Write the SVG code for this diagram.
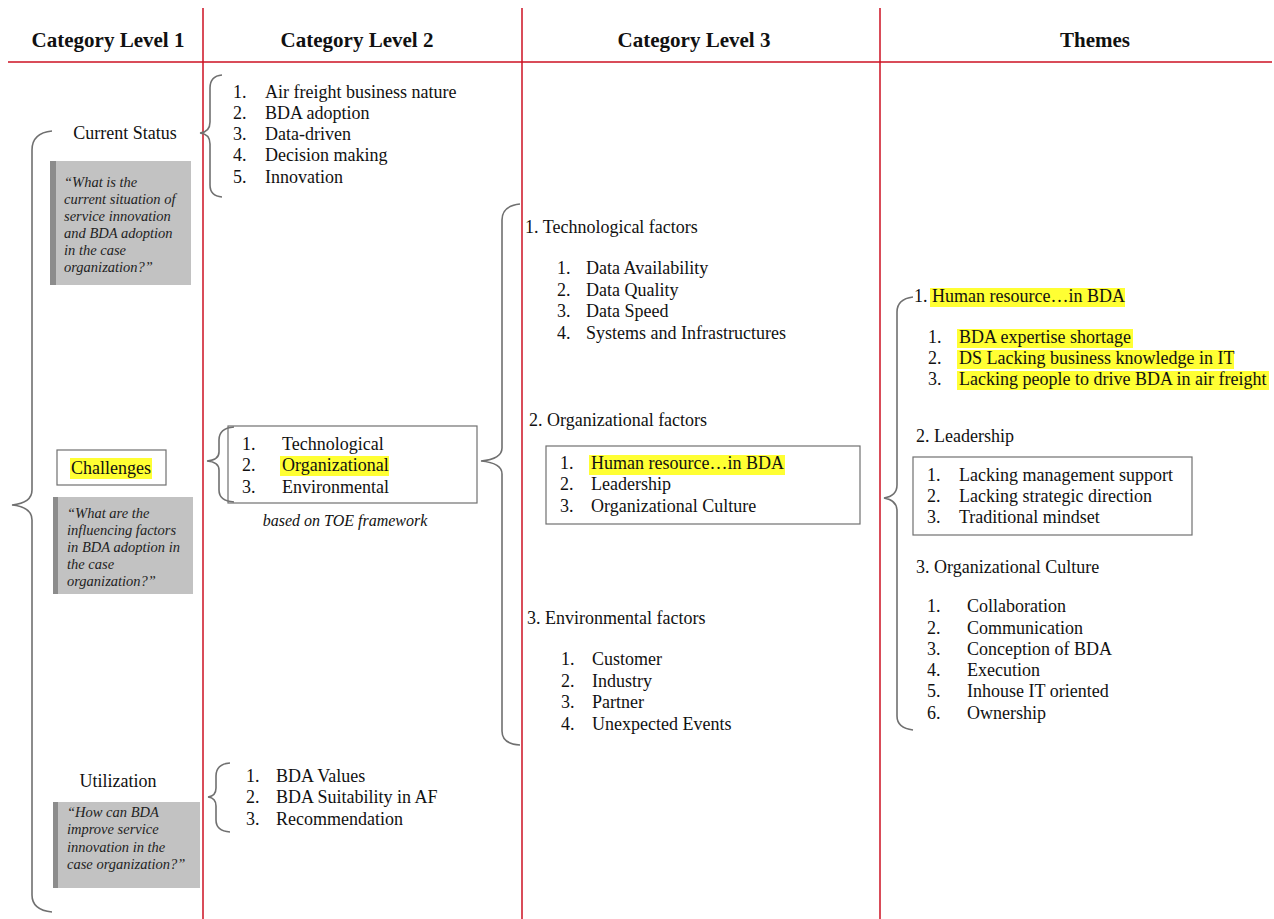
<svg xmlns="http://www.w3.org/2000/svg" width="1274" height="919" viewBox="0 0 1274 919">
<style>
.h{font-family:"Liberation Serif","Times New Roman",serif;font-size:21px;font-weight:bold;fill:#111;text-anchor:middle}
.t{font-family:"Liberation Serif","Times New Roman",serif;font-size:18px;fill:#111}
.q{font-family:"Liberation Serif","Times New Roman",serif;font-size:14.5px;font-style:italic;fill:#222}
.n{font-family:"Liberation Serif","Times New Roman",serif;font-size:16px;font-style:italic;fill:#111;text-anchor:middle}
.red{stroke:#cc1122;stroke-width:1.5;fill:none}
.br{stroke:#707070;stroke-width:1.6;fill:none}
.box{stroke:#707070;stroke-width:1.2;fill:none}
.hl{fill:#ffff33}
.g{fill:#c2c2c2}
.gs{fill:#8c8c8c}
</style>
<rect width="1274" height="919" fill="#fff"/>
<g id="grid">
<line class="red" x1="8" y1="62" x2="1272" y2="62"/>
<line class="red" x1="203" y1="8" x2="203" y2="919"/>
<line class="red" x1="522" y1="8" x2="522" y2="919"/>
<line class="red" x1="880" y1="8" x2="880" y2="919"/>
</g>
<g id="headers">
<text class="h" x="108" y="47">Category Level 1</text>
<text class="h" x="357" y="47">Category Level 2</text>
<text class="h" x="694" y="47">Category Level 3</text>
<text class="h" x="1095" y="47">Themes</text>
</g>
<g id="connectors">
<path class="br" d="M52,131 Q32,133 32,150 L32,490 Q32,503 12,505 Q32,507 32,520 L32,895 Q32,910 52,912"/>
<path class="br" d="M222,75 Q210,76 210,88 L210,122 Q210,132 200,133 Q210,134 210,144 L210,185 Q210,196 222,197"/>
<path class="br" d="M234,427 Q219,428 219,440 L219,452 Q219,460 207,461 Q219,462 219,470 L219,490 Q219,501 234,502"/>
<path class="br" d="M230,763 Q216,764 216,776 L216,788 Q216,796 208,797 Q216,798 216,806 L216,820 Q216,831 230,832"/>
<path class="br" d="M520,204 Q502,206 502,220 L502,448 Q502,459 481,461 Q502,463 502,474 L502,731 Q502,744 520,745"/>
<path class="br" d="M913,297 Q897,299 897,312 L897,485 Q897,496 884,498 Q897,500 897,511 L897,716 Q897,728 913,730"/>
</g>
<g id="current-status">
<text class="t" x="125" y="139" text-anchor="middle">Current Status</text>
<rect class="g" x="50" y="161" width="141" height="124"/>
<rect class="gs" x="50" y="161" width="6" height="124"/>
<text class="q" x="64" y="187">“What is the</text>
<text class="q" x="64" y="204">current situation of</text>
<text class="q" x="64" y="221">service innovation</text>
<text class="q" x="64" y="238">and BDA adoption</text>
<text class="q" x="64" y="255">in the case</text>
<text class="q" x="64" y="272">organization?”</text>
</g>
<g id="challenges">
<rect class="box" x="57" y="450" width="109" height="35"/>
<rect class="hl" x="70" y="458" width="82" height="21"/>
<text class="t" x="111" y="474" text-anchor="middle">Challenges</text>
<rect class="g" x="53" y="497" width="140" height="97"/>
<rect class="gs" x="53" y="497" width="5" height="97"/>
<text class="q" x="67" y="518">“What are the</text>
<text class="q" x="67" y="535">influencing factors</text>
<text class="q" x="67" y="552">in BDA adoption in</text>
<text class="q" x="67" y="569">the case</text>
<text class="q" x="67" y="586">organization?”</text>
</g>
<g id="utilization">
<text class="t" x="118" y="787" text-anchor="middle">Utilization</text>
<rect class="g" x="53" y="802" width="147" height="86"/>
<rect class="gs" x="53" y="802" width="5" height="86"/>
<text class="q" x="67" y="817">“How can BDA</text>
<text class="q" x="67" y="834">improve service</text>
<text class="q" x="67" y="852">innovation in the</text>
<text class="q" x="67" y="869">case organization?”</text>
</g>
<g id="l2-current">
<text class="t" x="233" y="98">1.</text><text class="t" x="265" y="98">Air freight business nature</text>
<text class="t" x="233" y="119">2.</text><text class="t" x="265" y="119">BDA adoption</text>
<text class="t" x="233" y="140">3.</text><text class="t" x="265" y="140">Data-driven</text>
<text class="t" x="233" y="161">4.</text><text class="t" x="265" y="161">Decision making</text>
<text class="t" x="233" y="183">5.</text><text class="t" x="265" y="183">Innovation</text>
</g>
<g id="l2-challenges">
<rect class="box" x="228" y="426" width="249" height="77"/>
<rect class="hl" x="280" y="456" width="109" height="20"/>
<text class="t" x="242" y="450">1.</text><text class="t" x="282" y="450">Technological</text>
<text class="t" x="242" y="471">2.</text><text class="t" x="282" y="471">Organizational</text>
<text class="t" x="242" y="493">3.</text><text class="t" x="282" y="493">Environmental</text>
<text class="n" x="345" y="526">based on TOE framework</text>
</g>
<g id="l2-utilization">
<text class="t" x="246" y="782">1.</text><text class="t" x="276" y="782">BDA Values</text>
<text class="t" x="246" y="803">2.</text><text class="t" x="276" y="803">BDA Suitability in AF</text>
<text class="t" x="246" y="825">3.</text><text class="t" x="276" y="825">Recommendation</text>
</g>
<g id="l3-tech">
<text class="t" x="525" y="233">1. Technological factors</text>
<text class="t" x="557" y="274">1.</text><text class="t" x="586" y="274">Data Availability</text>
<text class="t" x="557" y="296">2.</text><text class="t" x="586" y="296">Data Quality</text>
<text class="t" x="557" y="317">3.</text><text class="t" x="586" y="317">Data Speed</text>
<text class="t" x="557" y="339">4.</text><text class="t" x="586" y="339">Systems and Infrastructures</text>
</g>
<g id="l3-org">
<text class="t" x="529" y="426">2. Organizational factors</text>
<rect class="box" x="546" y="446" width="314" height="78"/>
<rect class="hl" x="589" y="455" width="196" height="20"/>
<text class="t" x="560" y="469">1.</text><text class="t" x="591" y="469">Human resource…in BDA</text>
<text class="t" x="560" y="490">2.</text><text class="t" x="591" y="490">Leadership</text>
<text class="t" x="560" y="512">3.</text><text class="t" x="591" y="512">Organizational Culture</text>
</g>
<g id="l3-env">
<text class="t" x="527" y="624">3. Environmental factors</text>
<text class="t" x="561" y="665">1.</text><text class="t" x="592" y="665">Customer</text>
<text class="t" x="561" y="687">2.</text><text class="t" x="592" y="687">Industry</text>
<text class="t" x="561" y="708">3.</text><text class="t" x="592" y="708">Partner</text>
<text class="t" x="561" y="730">4.</text><text class="t" x="592" y="730">Unexpected Events</text>
</g>
<g id="theme-hr">
<rect class="hl" x="930" y="288" width="195" height="19"/>
<rect class="hl" x="957" y="329" width="176" height="19"/>
<rect class="hl" x="957" y="350" width="277" height="19"/>
<rect class="hl" x="957" y="371" width="312" height="19"/>
<text class="t" x="914" y="302">1. Human resource…in BDA</text>
<text class="t" x="928" y="343">1.</text><text class="t" x="959" y="343">BDA expertise shortage</text>
<text class="t" x="928" y="364">2.</text><text class="t" x="959" y="364">DS Lacking business knowledge in IT</text>
<text class="t" x="928" y="385">3.</text><text class="t" x="959" y="385">Lacking people to drive BDA in air freight</text>
</g>
<g id="theme-leadership">
<text class="t" x="916" y="442">2. Leadership</text>
<rect class="box" x="913" y="457" width="279" height="78"/>
<text class="t" x="927" y="481">1.</text><text class="t" x="959" y="481">Lacking management support</text>
<text class="t" x="927" y="502">2.</text><text class="t" x="959" y="502">Lacking strategic direction</text>
<text class="t" x="927" y="523">3.</text><text class="t" x="959" y="523">Traditional mindset</text>
</g>
<g id="theme-culture">
<text class="t" x="916" y="573">3. Organizational Culture</text>
<text class="t" x="927" y="612">1.</text><text class="t" x="967" y="612">Collaboration</text>
<text class="t" x="927" y="634">2.</text><text class="t" x="967" y="634">Communication</text>
<text class="t" x="927" y="655">3.</text><text class="t" x="967" y="655">Conception of BDA</text>
<text class="t" x="927" y="676">4.</text><text class="t" x="967" y="676">Execution</text>
<text class="t" x="927" y="697">5.</text><text class="t" x="967" y="697">Inhouse IT oriented</text>
<text class="t" x="927" y="719">6.</text><text class="t" x="967" y="719">Ownership</text>
</g>
</svg>
